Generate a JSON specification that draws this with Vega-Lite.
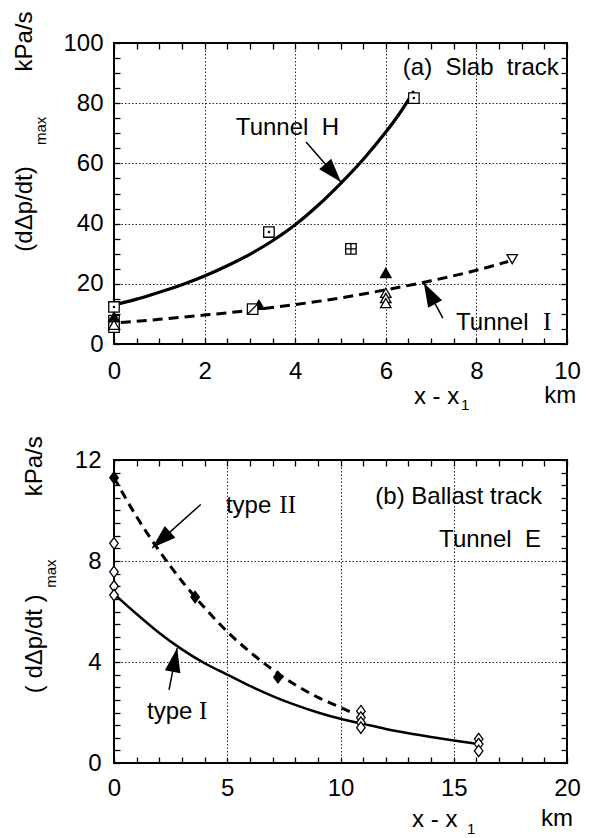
{
  "$schema": "https://vega.github.io/schema/vega-lite/v6.json",
  "autosize": "none",
  "padding": {"left": 114, "top": 43, "right": 489, "bottom": 795},
  "background": "white",
  "config": {
    "view": {"stroke": "black", "strokeWidth": 2},
    "axis": {
      "domain": false,
      "tickColor": "black",
      "tickWidth": 1.3,
      "tickSize": -6,
      "labelFont": "Liberation Sans",
      "labelFontSize": 24,
      "labelColor": "black",
      "labelOverlap": false,
      "labelFlush": false,
      "labelBound": false,
      "gridColor": "black",
      "gridDash": [1.5, 2],
      "gridWidth": 1,
      "title": null
    },
    "text": {"font": "Liberation Sans", "fontSize": 24, "color": "black"}
  },
  "datasets": {
    "curves": [
      {"curve": "Tunnel H", "x": 0, "y": 13.0},
      {"curve": "Tunnel H", "x": 0.5, "y": 14.9},
      {"curve": "Tunnel H", "x": 1, "y": 17.2},
      {"curve": "Tunnel H", "x": 1.5, "y": 19.7},
      {"curve": "Tunnel H", "x": 2, "y": 22.6},
      {"curve": "Tunnel H", "x": 2.5, "y": 26.0},
      {"curve": "Tunnel H", "x": 3, "y": 29.8},
      {"curve": "Tunnel H", "x": 3.5, "y": 34.3},
      {"curve": "Tunnel H", "x": 4, "y": 39.6},
      {"curve": "Tunnel H", "x": 4.5, "y": 46.0},
      {"curve": "Tunnel H", "x": 5, "y": 53.3},
      {"curve": "Tunnel H", "x": 5.5, "y": 61.3},
      {"curve": "Tunnel H", "x": 6, "y": 70.4},
      {"curve": "Tunnel H", "x": 6.3, "y": 76.5},
      {"curve": "Tunnel H", "x": 6.62, "y": 84.0},
      {"curve": "Tunnel I", "x": 0.15, "y": 7.1},
      {"curve": "Tunnel I", "x": 1, "y": 8.2},
      {"curve": "Tunnel I", "x": 2, "y": 9.6},
      {"curve": "Tunnel I", "x": 3, "y": 11.2},
      {"curve": "Tunnel I", "x": 4, "y": 13.1},
      {"curve": "Tunnel I", "x": 5, "y": 15.3},
      {"curve": "Tunnel I", "x": 6, "y": 18.0},
      {"curve": "Tunnel I", "x": 7, "y": 21.0},
      {"curve": "Tunnel I", "x": 8, "y": 24.5},
      {"curve": "Tunnel I", "x": 8.7, "y": 27.4},
      {"curve": "type II", "x": 0, "y": 11.3},
      {"curve": "type II", "x": 1, "y": 9.75},
      {"curve": "type II", "x": 2, "y": 8.4},
      {"curve": "type II", "x": 3, "y": 7.2},
      {"curve": "type II", "x": 4, "y": 6.15},
      {"curve": "type II", "x": 5, "y": 5.2},
      {"curve": "type II", "x": 6, "y": 4.4},
      {"curve": "type II", "x": 7, "y": 3.7},
      {"curve": "type II", "x": 8, "y": 3.1},
      {"curve": "type II", "x": 9, "y": 2.6},
      {"curve": "type II", "x": 10, "y": 2.2},
      {"curve": "type II", "x": 10.5, "y": 2.0},
      {"curve": "type I", "x": 0, "y": 6.7},
      {"curve": "type I", "x": 1, "y": 5.9},
      {"curve": "type I", "x": 2, "y": 5.15},
      {"curve": "type I", "x": 3, "y": 4.5},
      {"curve": "type I", "x": 4, "y": 3.95},
      {"curve": "type I", "x": 5, "y": 3.5},
      {"curve": "type I", "x": 6, "y": 3.05},
      {"curve": "type I", "x": 7, "y": 2.65},
      {"curve": "type I", "x": 8, "y": 2.3},
      {"curve": "type I", "x": 9, "y": 2.0},
      {"curve": "type I", "x": 10, "y": 1.75},
      {"curve": "type I", "x": 11, "y": 1.55},
      {"curve": "type I", "x": 12, "y": 1.35},
      {"curve": "type I", "x": 13, "y": 1.18},
      {"curve": "type I", "x": 14, "y": 1.03},
      {"curve": "type I", "x": 15, "y": 0.89},
      {"curve": "type I", "x": 16.1, "y": 0.75}
    ],
    "slab": [
      {"kind": "square dot", "x": 0, "y": 12.3},
      {"kind": "square dot", "x": 3.42, "y": 37.2},
      {"kind": "square dot", "x": 6.62, "y": 81.7},
      {"kind": "square", "x": 0, "y": 7.8},
      {"kind": "square", "x": 0, "y": 5.6},
      {"kind": "triangle", "x": 0, "y": 6.4},
      {"kind": "triangle", "x": 6.0, "y": 17.0},
      {"kind": "triangle", "x": 6.0, "y": 15.3},
      {"kind": "triangle", "x": 6.0, "y": 13.6},
      {"kind": "triangle filled", "x": 0, "y": 9.0},
      {"kind": "triangle filled", "x": 3.2, "y": 13.0},
      {"kind": "triangle filled", "x": 6.0, "y": 23.6},
      {"kind": "square slash", "x": 3.06, "y": 11.6},
      {"kind": "square plus", "x": 5.23, "y": 31.6},
      {"kind": "triangle down", "x": 8.79, "y": 28.2}
    ],
    "ballast": [
      {"kind": "type I", "x": 0, "y": 8.7},
      {"kind": "type I", "x": 0, "y": 7.57},
      {"kind": "type I", "x": 0, "y": 7.0},
      {"kind": "type I", "x": 0, "y": 6.65},
      {"kind": "type I", "x": 10.9, "y": 2.05},
      {"kind": "type I", "x": 10.9, "y": 1.8},
      {"kind": "type I", "x": 10.9, "y": 1.6},
      {"kind": "type I", "x": 10.9, "y": 1.4},
      {"kind": "type I", "x": 16.1, "y": 0.95},
      {"kind": "type I", "x": 16.1, "y": 0.75},
      {"kind": "type I", "x": 16.1, "y": 0.48},
      {"kind": "type II", "x": 0, "y": 11.3},
      {"kind": "type II", "x": 3.58, "y": 6.57},
      {"kind": "type II", "x": 7.24, "y": 3.4}
    ],
    "arrows": [
      {"panel": "a", "name": "H", "x": 4.24, "y": 67.1, "x2": 5.01, "y2": 53.8},
      {"panel": "a", "name": "I", "x": 7.26, "y": 8.6, "x2": 6.84, "y2": 20.3},
      {"panel": "b", "name": "II", "x": 3.83, "y": 10.24, "x2": 1.69, "y2": 8.52},
      {"panel": "b", "name": "I", "x": 2.43, "y": 2.9, "x2": 2.79, "y2": 4.55}
    ],
    "texts": [
      {"panel": "a", "role": "label", "text": "Tunnel\u00a0\u00a0H", "x": 2.69, "y": 69.6},
      {"panel": "a", "role": "label", "text": "Tunnel", "x": 7.55, "y": 4.65},
      {"panel": "a", "role": "numeral", "text": "I", "x": 9.47, "y": 4.65},
      {"panel": "a", "role": "label_r", "text": "(a)\u00a0\u00a0Slab\u00a0\u00a0track", "x": 9.82, "y": 89.4},
      {"panel": "a", "role": "vtitle", "text": "kPa/s", "x": -1.965, "y": 100.5},
      {"panel": "a", "role": "vtitle", "text": "(dΔp/dt)", "x": -1.965, "y": 44.85},
      {"panel": "a", "role": "vsub", "text": "max", "x": -1.61, "y": 70.8},
      {"panel": "a", "role": "label", "text": "x - x", "x": 6.62, "y": -19.9},
      {"panel": "a", "role": "sub", "text": "1", "x": 7.66, "y": -21.9},
      {"panel": "a", "role": "label_c", "text": "km", "x": 9.85, "y": -19.6},
      {"panel": "b", "role": "label", "text": "type", "x": 4.94, "y": 9.92},
      {"panel": "b", "role": "numeral", "text": "II", "x": 7.3, "y": 9.92},
      {"panel": "b", "role": "label", "text": "type", "x": 1.46, "y": 1.75},
      {"panel": "b", "role": "numeral", "text": "I", "x": 3.75, "y": 1.75},
      {"panel": "b", "role": "label_r", "text": "(b) Ballast track", "x": 18.9, "y": 10.24},
      {"panel": "b", "role": "label_r", "text": "Tunnel\u00a0\u00a0E", "x": 18.85, "y": 8.57},
      {"panel": "b", "role": "vtitle", "text": "kPa/s", "x": -3.49, "y": 11.75},
      {"panel": "b", "role": "vtitle", "text": "( dΔp/dt )", "x": -3.49, "y": 4.72},
      {"panel": "b", "role": "vsub", "text": "max", "x": -2.78, "y": 7.5},
      {"panel": "b", "role": "label", "text": "x - x", "x": 13.16, "y": -2.54},
      {"panel": "b", "role": "sub", "text": "1", "x": 15.59, "y": -2.82},
      {"panel": "b", "role": "label_c", "text": "km", "x": 19.56, "y": -2.5}
    ]
  },
  "spacing": 116,
  "bounds": "flush",
  "resolve": {"scale": {"fill": "independent", "shape": "independent"}},
  "vconcat": [
    {
      "width": 453,
      "height": 301,
      "resolve": {"axis": {"x": "independent", "y": "independent"}},
      "layer": [
        {
          "data": {"name": "curves"},
          "transform": [{"filter": "datum.curve === 'Tunnel H'"}],
          "mark": {"type": "line", "color": "black", "strokeWidth": 3.2, "interpolate": "monotone"},
          "encoding": {
            "x": {
              "field": "x", "type": "quantitative",
              "scale": {"domain": [0, 10], "nice": false, "zero": false},
              "axis": {
                "orient": "bottom",
                "values": [0, 0.5, 1, 1.5, 2, 2.5, 3, 3.5, 4, 4.5, 5, 5.5, 6, 6.5, 7, 7.5, 8, 8.5, 9, 9.5, 10],
                "grid": true,
                "gridOpacity": {"condition": {"test": "datum.value % 2 === 0", "value": 0.85}, "value": 0},
                "labelExpr": "datum.value % 2 === 0 ? format(datum.value, 'd') : ''",
                "labelPadding": 21
              }
            },
            "y": {
              "field": "y", "type": "quantitative",
              "scale": {"domain": [0, 100], "nice": false, "zero": false},
              "axis": {
                "orient": "left",
                "values": [0, 5, 10, 15, 20, 25, 30, 35, 40, 45, 50, 55, 60, 65, 70, 75, 80, 85, 90, 95, 100],
                "grid": true,
                "gridOpacity": {"condition": {"test": "datum.value % 20 === 0", "value": 0.85}, "value": 0},
                "labelExpr": "datum.value % 20 === 0 ? format(datum.value, 'd') : ''",
                "labelPadding": 17
              }
            }
          }
        },
        {
          "data": {"name": "curves"},
          "transform": [{"filter": "datum.curve === 'Tunnel I'"}],
          "mark": {"type": "line", "color": "black", "strokeWidth": 3, "strokeDash": [10, 6], "interpolate": "monotone"},
          "encoding": {
            "x": {
              "field": "x", "type": "quantitative",
              "axis": {"orient": "top", "values": [0, 0.5, 1, 1.5, 2, 2.5, 3, 3.5, 4, 4.5, 5, 5.5, 6, 6.5, 7, 7.5, 8, 8.5, 9, 9.5, 10], "labels": false, "grid": false}
            },
            "y": {
              "field": "y", "type": "quantitative",
              "axis": {"orient": "right", "values": [0, 5, 10, 15, 20, 25, 30, 35, 40, 45, 50, 55, 60, 65, 70, 75, 80, 85, 90, 95, 100], "labels": false, "grid": false}
            }
          }
        },
        {
          "data": {"name": "arrows"},
          "transform": [{"filter": "datum.panel === 'a'"}],
          "mark": {"type": "rule", "color": "black", "strokeWidth": 1.5},
          "encoding": {
            "x": {"field": "x", "type": "quantitative", "axis": null},
            "y": {"field": "y", "type": "quantitative", "axis": null},
            "x2": {"field": "x2"},
            "y2": {"field": "y2"}
          }
        },
        {
          "data": {"name": "arrows"},
          "transform": [{"filter": "datum.panel === 'a' && datum.name === 'H'"}],
          "mark": {"type": "point", "shape": "M0,0L-0.33,1L0.33,1Z", "size": 2304, "filled": true, "color": "black", "opacity": 1, "angle": 139},
          "encoding": {
            "x": {"field": "x2", "type": "quantitative", "axis": null},
            "y": {"field": "y2", "type": "quantitative", "axis": null}
          }
        },
        {
          "data": {"name": "arrows"},
          "transform": [{"filter": "datum.panel === 'a' && datum.name === 'I'"}],
          "mark": {"type": "point", "shape": "M0,0L-0.33,1L0.33,1Z", "size": 2304, "filled": true, "color": "black", "opacity": 1, "angle": 332},
          "encoding": {
            "x": {"field": "x2", "type": "quantitative", "axis": null},
            "y": {"field": "y2", "type": "quantitative", "axis": null}
          }
        },
        {
          "data": {"name": "slab"},
          "mark": {"type": "point", "filled": true, "stroke": "black", "strokeWidth": 1.3, "size": 110, "opacity": 1},
          "encoding": {
            "x": {"field": "x", "type": "quantitative", "axis": null},
            "y": {"field": "y", "type": "quantitative", "axis": null},
            "shape": {
              "field": "kind", "type": "nominal", "legend": null,
              "scale": {
                "domain": ["square dot", "square", "triangle", "triangle filled", "square slash", "square plus", "triangle down"],
                "range": [
                  "M-1,-1H1V1H-1Z M-0.12,0A0.12,0.12 0 1 0 0.12,0A0.12,0.12 0 1 0 -0.12,0Z",
                  "square",
                  "triangle-up",
                  "triangle-up",
                  "M-1,-1H1V1H-1Z M-1,1L1,-1",
                  "M-1,-1H1V1H-1Z M0,-1V1 M-1,0H1",
                  "triangle-down"
                ]
              }
            },
            "fill": {
              "field": "kind", "type": "nominal", "legend": null,
              "scale": {
                "domain": ["square dot", "square", "triangle", "triangle filled", "square slash", "square plus", "triangle down"],
                "range": ["white", "white", "white", "black", "white", "white", "white"]
              }
            }
          }
        },
        {
          "data": {"name": "texts"},
          "transform": [{"filter": "datum.panel === 'a' && datum.role === 'label'"}],
          "mark": {"type": "text", "align": "left", "baseline": "alphabetic"},
          "encoding": {
            "x": {"field": "x", "type": "quantitative", "axis": null},
            "y": {"field": "y", "type": "quantitative", "axis": null},
            "text": {"field": "text"}
          }
        },
        {
          "data": {"name": "texts"},
          "transform": [{"filter": "datum.panel === 'a' && datum.role === 'label_r'"}],
          "mark": {"type": "text", "align": "right", "baseline": "alphabetic"},
          "encoding": {
            "x": {"field": "x", "type": "quantitative", "axis": null},
            "y": {"field": "y", "type": "quantitative", "axis": null},
            "text": {"field": "text"}
          }
        },
        {
          "data": {"name": "texts"},
          "transform": [{"filter": "datum.panel === 'a' && datum.role === 'label_c'"}],
          "mark": {"type": "text", "align": "center", "baseline": "alphabetic"},
          "encoding": {
            "x": {"field": "x", "type": "quantitative", "axis": null},
            "y": {"field": "y", "type": "quantitative", "axis": null},
            "text": {"field": "text"}
          }
        },
        {
          "data": {"name": "texts"},
          "transform": [{"filter": "datum.panel === 'a' && datum.role === 'numeral'"}],
          "mark": {"type": "text", "align": "left", "baseline": "alphabetic", "font": "Liberation Serif", "fontSize": 25},
          "encoding": {
            "x": {"field": "x", "type": "quantitative", "axis": null},
            "y": {"field": "y", "type": "quantitative", "axis": null},
            "text": {"field": "text"}
          }
        },
        {
          "data": {"name": "texts"},
          "transform": [{"filter": "datum.panel === 'a' && datum.role === 'sub'"}],
          "mark": {"type": "text", "align": "left", "baseline": "alphabetic", "fontSize": 15},
          "encoding": {
            "x": {"field": "x", "type": "quantitative", "axis": null},
            "y": {"field": "y", "type": "quantitative", "axis": null},
            "text": {"field": "text"}
          }
        },
        {
          "data": {"name": "texts"},
          "transform": [{"filter": "datum.panel === 'a' && datum.role === 'vtitle'"}],
          "mark": {"type": "text", "align": "center", "baseline": "middle", "angle": 270},
          "encoding": {
            "x": {"field": "x", "type": "quantitative", "axis": null},
            "y": {"field": "y", "type": "quantitative", "axis": null},
            "text": {"field": "text"}
          }
        },
        {
          "data": {"name": "texts"},
          "transform": [{"filter": "datum.panel === 'a' && datum.role === 'vsub'"}],
          "mark": {"type": "text", "align": "center", "baseline": "middle", "angle": 270, "fontSize": 15},
          "encoding": {
            "x": {"field": "x", "type": "quantitative", "axis": null},
            "y": {"field": "y", "type": "quantitative", "axis": null},
            "text": {"field": "text"}
          }
        }
      ]
    },
    {
      "width": 453,
      "height": 303,
      "resolve": {"axis": {"x": "independent", "y": "independent"}},
      "layer": [
        {
          "data": {"name": "curves"},
          "transform": [{"filter": "datum.curve === 'type I'"}],
          "mark": {"type": "line", "color": "black", "strokeWidth": 2.5, "interpolate": "monotone"},
          "encoding": {
            "x": {
              "field": "x", "type": "quantitative",
              "scale": {"domain": [0, 20], "nice": false, "zero": false},
              "axis": {
                "orient": "bottom",
                "values": [0, 1, 2, 3, 4, 5, 6, 7, 8, 9, 10, 11, 12, 13, 14, 15, 16, 17, 18, 19, 20],
                "grid": true,
                "gridOpacity": {"condition": {"test": "datum.value % 5 === 0", "value": 0.85}, "value": 0},
                "labelExpr": "datum.value % 5 === 0 ? format(datum.value, 'd') : ''",
                "labelPadding": 19
              }
            },
            "y": {
              "field": "y", "type": "quantitative",
              "scale": {"domain": [0, 12], "nice": false, "zero": false},
              "axis": {
                "orient": "left",
                "values": [0, 0.5, 1, 1.5, 2, 2.5, 3, 3.5, 4, 4.5, 5, 5.5, 6, 6.5, 7, 7.5, 8, 8.5, 9, 9.5, 10, 10.5, 11, 11.5, 12],
                "grid": true,
                "gridOpacity": {"condition": {"test": "datum.value % 4 === 0", "value": 0.85}, "value": 0},
                "labelExpr": "datum.value % 4 === 0 ? format(datum.value, 'd') : ''",
                "labelPadding": 19
              }
            }
          }
        },
        {
          "data": {"name": "curves"},
          "transform": [{"filter": "datum.curve === 'type II'"}],
          "mark": {"type": "line", "color": "black", "strokeWidth": 3, "strokeDash": [9, 6], "interpolate": "monotone"},
          "encoding": {
            "x": {
              "field": "x", "type": "quantitative",
              "axis": {"orient": "top", "values": [0, 1, 2, 3, 4, 5, 6, 7, 8, 9, 10, 11, 12, 13, 14, 15, 16, 17, 18, 19, 20], "labels": false, "grid": false}
            },
            "y": {
              "field": "y", "type": "quantitative",
              "axis": {"orient": "right", "values": [0, 0.5, 1, 1.5, 2, 2.5, 3, 3.5, 4, 4.5, 5, 5.5, 6, 6.5, 7, 7.5, 8, 8.5, 9, 9.5, 10, 10.5, 11, 11.5, 12], "labels": false, "grid": false}
            }
          }
        },
        {
          "data": {"name": "arrows"},
          "transform": [{"filter": "datum.panel === 'b'"}],
          "mark": {"type": "rule", "color": "black", "strokeWidth": 1.5},
          "encoding": {
            "x": {"field": "x", "type": "quantitative", "axis": null},
            "y": {"field": "y", "type": "quantitative", "axis": null},
            "x2": {"field": "x2"},
            "y2": {"field": "y2"}
          }
        },
        {
          "data": {"name": "arrows"},
          "transform": [{"filter": "datum.panel === 'b' && datum.name === 'II'"}],
          "mark": {"type": "point", "shape": "M0,0L-0.33,1L0.33,1Z", "size": 2304, "filled": true, "color": "black", "opacity": 1, "angle": 228},
          "encoding": {
            "x": {"field": "x2", "type": "quantitative", "axis": null},
            "y": {"field": "y2", "type": "quantitative", "axis": null}
          }
        },
        {
          "data": {"name": "arrows"},
          "transform": [{"filter": "datum.panel === 'b' && datum.name === 'I'"}],
          "mark": {"type": "point", "shape": "M0,0L-0.33,1L0.33,1Z", "size": 2304, "filled": true, "color": "black", "opacity": 1, "angle": 11},
          "encoding": {
            "x": {"field": "x2", "type": "quantitative", "axis": null},
            "y": {"field": "y2", "type": "quantitative", "axis": null}
          }
        },
        {
          "data": {"name": "ballast"},
          "mark": {"type": "point", "shape": "M0,-1.15L0.85,0L0,1.15L-0.85,0Z", "filled": true, "stroke": "black", "strokeWidth": 1.3, "size": 100, "opacity": 1},
          "encoding": {
            "x": {"field": "x", "type": "quantitative", "axis": null},
            "y": {"field": "y", "type": "quantitative", "axis": null},
            "fill": {
              "field": "kind", "type": "nominal", "legend": null,
              "scale": {"domain": ["type I", "type II"], "range": ["white", "black"]}
            }
          }
        },
        {
          "data": {"name": "texts"},
          "transform": [{"filter": "datum.panel === 'b' && datum.role === 'label'"}],
          "mark": {"type": "text", "align": "left", "baseline": "alphabetic"},
          "encoding": {
            "x": {"field": "x", "type": "quantitative", "axis": null},
            "y": {"field": "y", "type": "quantitative", "axis": null},
            "text": {"field": "text"}
          }
        },
        {
          "data": {"name": "texts"},
          "transform": [{"filter": "datum.panel === 'b' && datum.role === 'label_r'"}],
          "mark": {"type": "text", "align": "right", "baseline": "alphabetic"},
          "encoding": {
            "x": {"field": "x", "type": "quantitative", "axis": null},
            "y": {"field": "y", "type": "quantitative", "axis": null},
            "text": {"field": "text"}
          }
        },
        {
          "data": {"name": "texts"},
          "transform": [{"filter": "datum.panel === 'b' && datum.role === 'label_c'"}],
          "mark": {"type": "text", "align": "center", "baseline": "alphabetic"},
          "encoding": {
            "x": {"field": "x", "type": "quantitative", "axis": null},
            "y": {"field": "y", "type": "quantitative", "axis": null},
            "text": {"field": "text"}
          }
        },
        {
          "data": {"name": "texts"},
          "transform": [{"filter": "datum.panel === 'b' && datum.role === 'numeral'"}],
          "mark": {"type": "text", "align": "left", "baseline": "alphabetic", "font": "Liberation Serif", "fontSize": 25},
          "encoding": {
            "x": {"field": "x", "type": "quantitative", "axis": null},
            "y": {"field": "y", "type": "quantitative", "axis": null},
            "text": {"field": "text"}
          }
        },
        {
          "data": {"name": "texts"},
          "transform": [{"filter": "datum.panel === 'b' && datum.role === 'sub'"}],
          "mark": {"type": "text", "align": "left", "baseline": "alphabetic", "fontSize": 15},
          "encoding": {
            "x": {"field": "x", "type": "quantitative", "axis": null},
            "y": {"field": "y", "type": "quantitative", "axis": null},
            "text": {"field": "text"}
          }
        },
        {
          "data": {"name": "texts"},
          "transform": [{"filter": "datum.panel === 'b' && datum.role === 'vtitle'"}],
          "mark": {"type": "text", "align": "center", "baseline": "middle", "angle": 270},
          "encoding": {
            "x": {"field": "x", "type": "quantitative", "axis": null},
            "y": {"field": "y", "type": "quantitative", "axis": null},
            "text": {"field": "text"}
          }
        },
        {
          "data": {"name": "texts"},
          "transform": [{"filter": "datum.panel === 'b' && datum.role === 'vsub'"}],
          "mark": {"type": "text", "align": "center", "baseline": "middle", "angle": 270, "fontSize": 15},
          "encoding": {
            "x": {"field": "x", "type": "quantitative", "axis": null},
            "y": {"field": "y", "type": "quantitative", "axis": null},
            "text": {"field": "text"}
          }
        }
      ]
    }
  ]
}
